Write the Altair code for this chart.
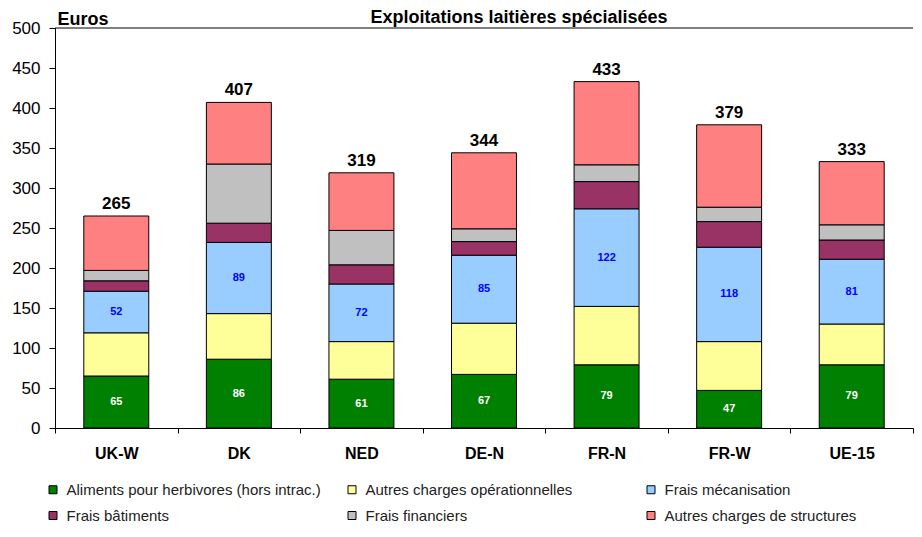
import altair as alt
import pandas as pd

categories = ["UK-W", "DK", "NED", "DE-N", "FR-N", "FR-W", "UE-15"]
series = [
    "Aliments pour herbivores (hors intrac.)",
    "Autres charges opérationnelles",
    "Frais mécanisation",
    "Frais bâtiments",
    "Frais financiers",
    "Autres charges de structures",
]
colors = ["#008000", "#FFFF99", "#99CCFF", "#993366", "#C0C0C0", "#FF8080"]

aliments = [65, 86, 61, 67, 79, 47, 79]
autres_op = [54, 57, 47, 64, 73, 61, 51]
mecanisation = [52, 89, 72, 85, 122, 118, 81]
batiments = [13, 24, 24, 17, 34, 32, 24]
financiers = [13, 74, 43, 16, 21, 18, 19]
autres_struct = [68, 77, 72, 95, 104, 103, 79]
totals = [265, 407, 319, 344, 433, 379, 333]
y_ticks = [0, 50, 100, 150, 200, 250, 300, 350, 400, 450, 500]

values_list = [aliments, autres_op, mecanisation, batiments, financiers, autres_struct]

rows = []
for i, c in enumerate(categories):
    cum = 0
    for j, (s, vals) in enumerate(zip(series, values_list)):
        v = vals[i]
        rows.append(dict(cat=c, serie=s, order=j, value=v, y0=cum, y1=cum + v, mid=cum + v / 2))
        cum += v
df = pd.DataFrame(rows)
tot_df = pd.DataFrame({"cat": categories, "total": totals})

W = 858
H = 400
FONT = "Liberation Sans"

x_axis = alt.Axis(
    title=None, labelAngle=0, labelFontSize=16, labelFontWeight="bold",
    labelColor="black", tickSize=5, tickBand="extent", labelPadding=12,
    domainColor="black", tickColor="black",
)
y_axis = alt.Axis(
    title="Euros", titleAngle=0, titleAlign="left", titleX=2, titleY=-4,
    titleBaseline="alphabetic", titleFontSize=18, titleFontWeight="bold",
    titleColor="black", values=y_ticks, tickCount=len(y_ticks) + 2,
    labelOverlap=False, grid=False,
    tickSize=6, labelPadding=9, labelFontSize=17, labelColor="black",
    domainColor="black", tickColor="black",
)
x_scale = alt.Scale(paddingInner=0, paddingOuter=0)
y_scale = alt.Scale(domain=[0, 500], nice=False)


def xe():
    return alt.X("cat:N", sort=categories, scale=x_scale, axis=x_axis)


def ye(field):
    return alt.Y(field, scale=y_scale, axis=y_axis)


bars = alt.Chart(df).mark_bar(
    stroke="#000", strokeWidth=1, width=alt.RelativeBandSize(0.53)
).encode(
    x=xe(),
    y=ye("y0:Q"),
    y2="y1:Q",
    color=alt.Color(
        "serie:N", sort=series,
        scale=alt.Scale(domain=series, range=colors),
        legend=alt.Legend(
            title=None, orient="none", legendX=-9.5, legendY=454, columns=3,
            direction="horizontal", symbolType="square", symbolSize=64,
            symbolStrokeColor="black", symbolStrokeWidth=1, symbolOpacity=1,
            labelFontSize=15, labelColor="#222", labelOffset=6, labelLimit=400,
            rowPadding=10, columnPadding=23, gridAlign="all", padding=0,
            symbolOffset=0,
        ),
    ),
    order=alt.Order("order:Q"),
)

green_lbl = alt.Chart(df[df["order"] == 0]).mark_text(
    color="white", fontWeight="bold", fontSize=11
).encode(x=xe(), y=ye("mid:Q"), text="value:Q")

blue_lbl = alt.Chart(df[df["order"] == 2]).mark_text(
    color="#0000FF", fontWeight="bold", fontSize=11
).encode(x=xe(), y=ye("mid:Q"), text="value:Q")

tot_lbl = alt.Chart(tot_df).mark_text(
    color="black", fontWeight="bold", fontSize=17, baseline="alphabetic", dy=-7
).encode(x=xe(), y=ye("total:Q"), text="total:Q")

top_line = alt.Chart(pd.DataFrame({"a": [0]})).mark_rule(color="black", strokeWidth=1).encode(
    x=alt.value(0), x2=alt.value(W), y=alt.value(0)
)

chart = alt.layer(bars, green_lbl, blue_lbl, tot_lbl, top_line).properties(
    width=W, height=H,
    title=alt.TitleParams(
        "Exploitations laitières spécialisées", fontSize=18, fontWeight="bold",
        anchor="middle", frame="group", dx=35, offset=-17, color="black",
    ),
    autosize=alt.AutoSizeParams(type="none"),
    padding={"left": 47, "top": 20, "right": 1, "bottom": 96},
).configure(font=FONT).configure_view(stroke=None)

chart.save("out.html", embed_options={"renderer": "svg", "actions": False})
